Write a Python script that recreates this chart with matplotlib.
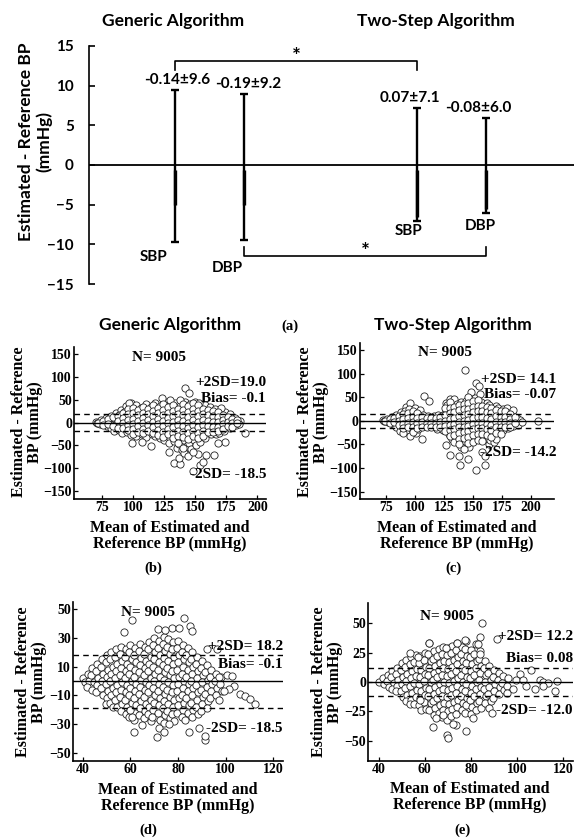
import matplotlib
matplotlib.use("Agg")
import matplotlib.pyplot as plt

plt.rcParams["font.family"] = "Liberation Serif"
plt.rcParams["font.weight"] = "bold"
plt.rcParams["axes.linewidth"] = 1.2

W, H = 582, 840
SANS = "Lato"

# ---- panel (a): mean +/- SD of the error ----
group_titles = ["Generic Algorithm", "Two-Step Algorithm"]
bp_names = ["SBP", "DBP", "SBP", "DBP"]
err_mean = [-0.14, -0.19, 0.07, -0.08]
err_sd = [9.6, 9.2, 7.1, 6.0]

# ---- Bland-Altman panels (b)-(e) ----
n_obs = 9005
ba_upper = [19.0, 14.1, 18.2, 12.2]
ba_bias = [-0.1, -0.07, -0.1, 0.08]
ba_lower = [-18.5, -14.2, -18.5, -12.0]

# (b) generic SBP
b_points = [
    (70, 2), (71, -2), (74, 5), (73, -4), (75, 0), (78, 10), (77, 2), (79, -8),
    (82, 15), (81, 5), (83, -5), (82, -13), (86, 21), (85, 10), (87, 0), (86, -10), (85, -18),
    (90, 27), (89, 16), (91, 5), (90, -6), (89, -17), (91, -24),
    (94, 36), (93, 24), (95, 12), (94, 1), (93, -10), (95, -21),
    (98, 43), (97, 31), (99, 18), (98, 6), (97, -6), (99, -18), (98, -27),
    (102, 38), (101, 26), (103, 14), (102, 2), (101, -9), (103, -21), (102, -30),
    (106, 33), (105, 21), (107, 9), (106, -3), (105, -15), (107, -26),
    (110, 40), (109, 28), (111, 16), (110, 4), (109, -8), (111, -20), (110, -31),
    (114, 35), (113, 23), (115, 11), (114, -1), (113, -13), (115, -25),
    (118, 42), (117, 30), (119, 18), (118, 6), (117, -6), (119, -18), (118, -29),
    (122, 37), (121, 25), (123, 13), (122, 1), (121, -11), (123, -23), (122, -34),
    (126, 45), (125, 33), (127, 21), (126, 9), (125, -3), (127, -15), (126, -27), (125, -39),
    (130, 38), (129, 26), (131, 14), (130, 2), (129, -10), (131, -22), (130, -34), (129, -46),
    (134, 43), (133, 31), (135, 19), (134, 7), (133, -5), (135, -17), (134, -29), (133, -41), (135, -55),
    (138, 36), (137, 24), (139, 12), (138, 0), (137, -12), (139, -24), (138, -36), (137, -48), (139, -60),
    (142, 45), (141, 33), (143, 21), (142, 9), (141, -3), (143, -15), (142, -27), (141, -39), (143, -52),
    (146, 40), (145, 28), (147, 16), (146, 4), (145, -8), (147, -20), (146, -32), (145, -45), (147, -58),
    (150, 46), (149, 34), (151, 22), (150, 10), (149, -2), (151, -14), (150, -26), (149, -38), (151, -50),
    (154, 32), (153, 20), (155, 8), (154, -4), (153, -16), (155, -28), (154, -42),
    (158, 38), (157, 26), (159, 14), (158, 2), (157, -10), (159, -22), (158, -34),
    (162, 35), (161, 23), (163, 11), (162, -1), (161, -13), (163, -25),
    (166, 30), (165, 19), (167, 8), (166, -3), (165, -14), (167, -26),
    (170, 22), (169, 11), (171, 0), (170, -11), (169, -22),
    (174, 24), (173, 13), (175, 3), (174, -8), (173, -18),
    (178, 18), (177, 8), (179, -2), (178, -12), (182, 11), (181, 3), (183, -6), (186, 4), (185, -3),
    (99, -44), (107, -43), (114, -51), (129, -64), (133, -88), (138, -90), (137, -78), (141, -66),
    (144, -73), (148, -106), (154, -93), (156, -86), (152, -70), (159, -72), (165, -72), (174, -43),
    (168, -46), (190, -23), (97, 44), (123, 54), (130, 50), (138, 50), (142, 75), (145, 64),
    (153, 44), (171, 33),
    (72, 0), (76, 3), (76, -5), (80, 7), (80, -3), (84, 12), (84, -8), (88, 15), (88, 4), (88, -12),
    (92, 20), (92, 9), (92, -2), (92, -13), (96, 30), (96, 18), (96, 6), (96, -5), (96, -16),
    (100, 32), (100, 20), (100, 8), (100, -3), (100, -14), (100, -25),
    (104, 28), (104, 16), (104, 4), (104, -8), (104, -20),
    (108, 35), (108, 22), (108, 10), (108, -2), (108, -14), (108, -24),
    (112, 30), (112, 18), (112, 6), (112, -6), (112, -18),
    (116, 38), (116, 26), (116, 14), (116, 2), (116, -10), (116, -22),
    (120, 32), (120, 20), (120, 8), (120, -4), (120, -16), (120, -28),
    (124, 40), (124, 28), (124, 16), (124, 4), (124, -8), (124, -20), (124, -32),
    (128, 34), (128, 22), (128, 10), (128, -2), (128, -14), (128, -26),
    (132, 38), (132, 26), (132, 14), (132, 2), (132, -10), (132, -22), (132, -34),
    (136, 30), (136, 18), (136, 6), (136, -6), (136, -18), (136, -30), (136, -44),
    (140, 40), (140, 28), (140, 16), (140, 4), (140, -8), (140, -20), (140, -32), (140, -56),
    (144, 36), (144, 24), (144, 12), (144, 0), (144, -12), (144, -24), (144, -36),
    (148, 42), (148, 30), (148, 18), (148, 6), (148, -6), (148, -18), (148, -30), (148, -64),
    (152, 38), (152, 26), (152, 14), (152, 2), (152, -10), (152, -22), (152, -34),
    (156, 30), (156, 18), (156, 6), (156, -6), (156, -18), (156, -30),
    (160, 28), (160, 16), (160, 4), (160, -8), (160, -20),
    (164, 26), (164, 14), (164, 2), (164, -10), (164, -20),
    (168, 24), (168, 13), (168, 2), (168, -9), (168, -19),
    (172, 17), (172, 6), (172, -4), (172, -14), (176, 12), (176, 2), (176, -7),
    (180, 8), (180, -2), (180, -10), (184, 6), (184, -1),
]

# (c) two-step SBP
c_points = [
    (72, 1), (73, -1), (76, 4), (77, -3), (80, 8), (79, 0), (81, -7),
    (84, 12), (83, 3), (85, -6), (84, -13), (88, 18), (87, 8), (89, -2), (88, -12), (87, -22),
    (92, 30), (91, 20), (93, 10), (92, 0), (91, -10), (93, -20), (90, -25),
    (96, 38), (95, 24), (97, 12), (96, 2), (95, -8), (97, -18), (96, -33),
    (100, 28), (99, 16), (101, 5), (100, -6), (99, -16), (101, -26),
    (104, 22), (103, 11), (105, 1), (104, -9), (103, -18), (106, -38),
    (108, 53), (107, 12), (109, 2), (108, -8), (112, 43), (111, 10), (113, 0), (112, -9),
    (116, 11), (115, 1), (117, -10), (120, 12), (119, 2), (121, -9), (119, -18),
    (124, 13), (123, 3), (125, -8), (124, -20),
    (127, 37), (128, 33), (127, 20), (129, 8), (128, -4), (127, -16), (129, -28), (127, -52),
    (130, 46), (132, 34), (131, 22), (133, 10), (132, -2), (131, -14), (133, -26), (132, -38), (130, -72),
    (134, 47), (136, 36), (135, 24), (137, 12), (136, 0), (135, -12), (137, -24), (136, -36), (134, -45),
    (140, 40), (139, 28), (141, 16), (140, 4), (139, -8), (141, -20), (140, -32), (139, -44),
    (140, -56), (138, -74), (139, -93),
    (143, 107), (144, 42), (143, 30), (145, 18), (144, 6), (143, -6), (145, -18), (144, -30),
    (143, -42), (146, -81),
    (148, 60), (149, 45), (147, 33), (149, 21), (148, 9), (147, -3), (149, -15), (148, -27),
    (147, -39), (147, -56),
    (153, 80), (152, 48), (151, 36), (153, 24), (152, 12), (151, 0), (153, -12), (152, -24), (151, -36),
    (155, 73), (156, 56), (157, 40), (155, 28), (157, 16), (156, 4), (155, -8), (157, -20),
    (156, -32), (158, -67), (153, -105),
    (162, 38), (161, 26), (159, 14), (161, 2), (160, -10), (159, -22), (161, -34), (164, -49),
    (160, -74), (160, -93),
    (164, 34), (165, 22), (163, 10), (165, -2), (164, -14), (163, -26), (165, -40),
    (170, 31), (168, 19), (169, 7), (167, -5), (169, -17), (168, -29), (168, -45),
    (172, 28), (173, 16), (171, 4), (173, -8), (172, -20), (170, -38),
    (176, 25), (177, 14), (175, 3), (177, -8), (176, -19),
    (179, 28), (180, 16), (181, 5), (179, -6), (180, -16),
    (185, 22), (183, 10), (184, 0), (185, -10), (188, 6), (187, -2), (189, -8),
    (191, 1), (192, -2), (206, 0),
    (74, 0), (78, 4), (78, -4), (82, 6), (82, -3), (86, 10), (86, 0), (86, -8),
    (90, 14), (90, 4), (90, -6), (90, -16), (94, 16), (94, 6), (94, -4), (94, -14),
    (98, 20), (98, 9), (98, -2), (98, -12), (98, -24), (102, 16), (102, 5), (102, -5), (102, -15),
    (106, 8), (106, -3), (106, -12), (110, 6), (110, -4), (110, -12), (114, 7), (114, -4), (114, -12),
    (118, 7), (118, -4), (118, -12), (122, 8), (122, -3), (122, -13),
    (126, 28), (126, 12), (126, 0), (126, -10), (126, -22),
    (130, 40), (130, 28), (130, 16), (130, 4), (130, -8), (130, -20), (130, -32),
    (134, 30), (134, 18), (134, 6), (134, -6), (134, -18), (134, -30),
    (138, 34), (138, 22), (138, 10), (138, -2), (138, -14), (138, -26), (138, -38), (138, -50),
    (142, 36), (142, 24), (142, 12), (142, 0), (142, -12), (142, -24), (142, -36), (142, -60),
    (146, 50), (146, 38), (146, 26), (146, 14), (146, 2), (146, -10), (146, -22), (146, -34), (146, -46),
    (150, 42), (150, 30), (150, 18), (150, 6), (150, -6), (150, -18), (150, -30), (150, -44),
    (154, 44), (154, 32), (154, 20), (154, 8), (154, -4), (154, -16), (154, -28), (154, -40),
    (158, 32), (158, 20), (158, 8), (158, -4), (158, -16), (158, -28), (158, -42),
    (162, 30), (162, 18), (162, 6), (162, -6), (162, -18), (162, -30),
    (166, 28), (166, 16), (166, 4), (166, -8), (166, -20), (166, -34),
    (170, 22), (170, 10), (170, -2), (170, -14), (170, -26),
    (174, 20), (174, 8), (174, -2), (174, -13), (174, -28),
    (178, 20), (178, 9), (178, -2), (178, -12), (182, 14), (182, 4), (182, -5), (182, -12),
    (186, 8), (186, -4),
]

# (d) generic DBP
d_points = [
    (40, 2), (41, -1), (42, 5), (42.5, 0), (41.5, -4),
    (44, 9), (43.5, 4), (44.5, -1), (44, -6),
    (46, 12), (45.5, 7), (46.5, 2), (46, -3), (45.5, -8),
    (48, 15), (47.5, 10), (48.5, 5), (48, 0), (47.5, -5), (48.5, -10),
    (50, 18), (49.5, 13), (50.5, 8), (50, 3), (49.5, -2), (50.5, -7), (50, -12), (49.5, -16),
    (52, 20), (51.5, 15), (52.5, 10), (52, 5), (51.5, 0), (52.5, -5), (52, -10), (51.5, -15), (52.5, -18),
    (54, 22), (53.5, 17), (54.5, 12), (54, 7), (53.5, 2), (54.5, -3), (54, -8), (53.5, -13), (54.5, -18),
    (56, 24), (55.5, 19), (56.5, 14), (56, 9), (55.5, 4), (56.5, -1), (56, -6), (55.5, -11),
    (56.5, -16), (56, -21),
    (58, 22), (57.5, 17), (58.5, 12), (58, 7), (57.5, 2), (58.5, -3), (58, -8), (57.5, -13),
    (58.5, -18), (58, -23),
    (60, 25), (59.5, 20), (60.5, 15), (60, 10), (59.5, 5), (60.5, 0), (60, -5), (59.5, -10),
    (60.5, -15), (60, -20), (59.5, -25),
    (62, 23), (61.5, 18), (62.5, 13), (62, 8), (61.5, 3), (62.5, -2), (62, -7), (61.5, -12),
    (62.5, -17), (62, -22), (61.5, -27),
    (64, 26), (63.5, 21), (64.5, 16), (64, 11), (63.5, 6), (64.5, 1), (64, -4), (63.5, -9),
    (64.5, -14), (64, -19), (63.5, -24),
    (66, 24), (65.5, 19), (66.5, 14), (66, 9), (65.5, 4), (66.5, -1), (66, -6), (65.5, -11),
    (66.5, -16), (66, -21), (65.5, -26),
    (68, 27), (67.5, 22), (68.5, 17), (68, 12), (67.5, 7), (68.5, 2), (68, -3), (67.5, -8),
    (68.5, -13), (68, -18), (67.5, -23), (68.5, -28),
    (70, 30), (69.5, 25), (70.5, 20), (70, 15), (69.5, 10), (70.5, 5), (70, 0), (69.5, -5),
    (70.5, -10), (70, -15), (69.5, -20), (70.5, -25),
    (72, 28), (71.5, 23), (72.5, 18), (72, 13), (71.5, 8), (72.5, 3), (72, -2), (71.5, -7),
    (72.5, -12), (72, -17), (71.5, -22), (72.5, -27),
    (74, 31), (73.5, 26), (74.5, 21), (74, 16), (73.5, 11), (74.5, 6), (74, 1), (73.5, -4),
    (74.5, -9), (74, -14), (73.5, -19), (74.5, -24), (74, -29),
    (76, 29), (75.5, 24), (76.5, 19), (76, 14), (75.5, 9), (76.5, 4), (76, -1), (75.5, -6),
    (76.5, -11), (76, -16), (75.5, -21), (76.5, -26),
    (78, 27), (77.5, 22), (78.5, 17), (78, 12), (77.5, 7), (78.5, 2), (78, -3), (77.5, -8),
    (78.5, -13), (78, -18), (77.5, -23), (78.5, -28),
    (80, 28), (79.5, 23), (80.5, 18), (80, 13), (79.5, 8), (80.5, 3), (80, -2), (79.5, -7),
    (80.5, -12), (80, -17), (79.5, -22),
    (82, 25), (81.5, 20), (82.5, 15), (82, 10), (81.5, 5), (82.5, 0), (82, -5), (81.5, -10),
    (82.5, -15), (82, -20), (81.5, -25),
    (84, 23), (83.5, 18), (84.5, 13), (84, 8), (83.5, 3), (84.5, -2), (84, -7), (83.5, -12),
    (84.5, -17), (84, -22),
    (86, 20), (85.5, 15), (86.5, 10), (86, 5), (85.5, 0), (86.5, -5), (86, -10), (85.5, -15),
    (86.5, -20), (86, -25),
    (88, 17), (87.5, 12), (88.5, 7), (88, 2), (87.5, -3), (88.5, -8), (88, -13), (87.5, -18), (88.5, -23),
    (90, 14), (89.5, 9), (90.5, 4), (90, -1), (89.5, -6), (90.5, -11), (90, -16), (89.5, -21),
    (92, 11), (91.5, 6), (92.5, 1), (92, -4), (91.5, -9), (92.5, -14), (92, -19),
    (94, 8), (93.5, 3), (94.5, -2), (94, -7), (93.5, -12),
    (96, 5), (95.5, 0), (96.5, -5), (96, -10), (98, 3), (97.5, -2), (98.5, -7),
    (60.7, 42.5), (57.2, 34), (82.4, 44), (85.2, 38.5), (85.9, 35), (77.5, 37), (80.3, 37),
    (71.6, 36), (74.7, 35.7), (92.2, 22), (96.5, 22), (97.2, 2.8), (100.7, 4.5), (102.8, 3.3),
    (103.5, -3.3), (101.4, -5.6), (106.3, -9), (108.4, -10.8), (110.5, -12.7), (112.3, -16),
    (99.3, -7.3), (97.2, -13), (61.4, -35.4), (60.7, -25), (64.9, -31), (71.2, -39), (71.9, -33),
    (74, -35.4), (76.1, -30), (84.5, -35.4), (88.7, -33), (91.5, -41), (91.3, -38.5), (83.1, -27),
    (60, -20), (69, -25),
]

# (e) two-step DBP
e_points = [
    (40, 0), (42, 3), (42.5, -2), (44, 6), (43.5, 1), (44.5, -4),
    (46, 9), (45.5, 4), (46.5, -1), (46, -6), (48, 12), (47.5, 7), (48.5, 2), (48, -3), (47.5, -8),
    (50, 16), (49.5, 10), (50.5, 4), (50, -2), (49.5, -8), (50.5, -13),
    (52, 19), (51.5, 13), (52.5, 7), (52, 1), (51.5, -5), (52.5, -11), (52, -16),
    (54, 21), (53.5, 15), (54.5, 9), (54, 3), (53.5, -3), (54.5, -9), (54, -15), (53.5, -19),
    (56, 23), (55.5, 17), (56.5, 11), (56, 5), (55.5, -1), (56.5, -7), (56, -13), (55.5, -19),
    (58, 22), (57.5, 16), (58.5, 10), (58, 4), (57.5, -2), (58.5, -8), (58, -14), (57.5, -20), (58.5, -24),
    (60, 25), (59.5, 19), (60.5, 13), (60, 7), (59.5, 1), (60.5, -5), (60, -11), (59.5, -17), (60.5, -23),
    (62, 33), (61.5, 24), (62.5, 18), (62, 12), (61.5, 6), (62.5, 0), (62, -6), (61.5, -12),
    (62.5, -18), (62, -24),
    (64, 26), (63.5, 20), (64.5, 14), (64, 8), (63.5, 2), (64.5, -4), (64, -10), (63.5, -16),
    (64.5, -22), (64, -28),
    (66, 28), (65.5, 22), (66.5, 16), (66, 10), (65.5, 4), (66.5, -2), (66, -8), (65.5, -14),
    (66.5, -20), (66, -26),
    (68, 30), (67.5, 24), (68.5, 18), (68, 12), (67.5, 6), (68.5, 0), (68, -6), (67.5, -12),
    (68.5, -18), (68, -24), (67.5, -30),
    (70, 29), (69.5, 23), (70.5, 17), (70, 11), (69.5, 5), (70.5, -1), (70, -7), (69.5, -13),
    (70.5, -19), (70, -25), (69.5, -32),
    (72, 31), (71.5, 25), (72.5, 19), (72, 13), (71.5, 7), (72.5, 1), (72, -5), (71.5, -11),
    (72.5, -17), (72, -23), (71.5, -29),
    (74, 33), (73.5, 27), (74.5, 21), (74, 15), (73.5, 9), (74.5, 3), (74, -3), (73.5, -9),
    (74.5, -15), (74, -21), (73.5, -27),
    (76, 30), (75.5, 24), (76.5, 18), (76, 12), (75.5, 6), (76.5, 0), (76, -6), (75.5, -12),
    (76.5, -18), (76, -24),
    (78, 35), (77.5, 28), (78.5, 22), (78, 16), (77.5, 10), (78.5, 4), (78, -2), (77.5, -8),
    (78.5, -14), (78, -20), (77.5, -26),
    (80, 27), (79.5, 21), (80.5, 15), (80, 9), (79.5, 3), (80.5, -3), (80, -9), (79.5, -15),
    (80.5, -21), (80, -27),
    (82, 32), (81.5, 24), (82.5, 18), (82, 12), (81.5, 6), (82.5, 0), (82, -6), (81.5, -12),
    (82.5, -18), (82, -24),
    (84, 26), (83.5, 20), (84.5, 14), (84, 8), (83.5, 2), (84.5, -4), (84, -10), (83.5, -16), (84.5, -22),
    (86, 18), (85.5, 12), (86.5, 6), (86, 0), (85.5, -6), (86.5, -12), (86, -18),
    (88, 14), (87.5, 8), (88.5, 2), (88, -4), (87.5, -10), (88.5, -16), (88, -22),
    (90, 10), (89.5, 4), (90.5, -2), (90, -8), (89.5, -14),
    (92, 8), (91.5, 2), (92.5, -4), (92, -10), (94, 5), (93.5, -1), (94.5, -7), (96, 3), (95.5, -3),
    (84.6, 50.4), (91.1, 37), (83.9, 38), (61.9, 33), (69.4, 29), (77.4, 36), (73.8, 33.6),
    (83.1, 32), (83.9, 24), (53.6, 24.4), (57.2, 21), (106.2, 9.8), (101.2, 6.4), (109.8, 1.4),
    (111.3, 0), (113.4, -0.8), (117.3, 0.8), (116.3, -7.6), (111.3, -3.6), (107.7, -5.6),
    (104, -3.6), (98.3, -5.6), (95.4, -9.2), (99.4, 2), (102.6, 1.4), (63.7, -38.4),
    (69.7, -44.8), (70.2, -47.6), (73.5, -36.4), (77.8, -42), (81, -30.8), (72.3, -35.6),
    (64.8, -30.8), (68, -28), (88.9, -26), (57.9, -15.4),
]

fig = plt.figure(figsize=(W / 100, H / 100), dpi=100)


def add_ax(l, t, r, b):
    return fig.add_axes([l / W, 1 - b / H, (r - l) / W, (b - t) / H])


def ftext(x, y, s, **kw):
    fig.text(x / W, 1 - y / H, s, **kw)


# ================= panel (a) =================
ax = add_ax(89, 44, 574, 286)
pos = [1, 2, 4.5, 5.5]
ax.set_xlim(-0.25, 6.77)
ax.set_ylim(-15.25, 15.25)
ax.errorbar(pos, err_mean, yerr=err_sd, fmt="none", ecolor="black", elinewidth=1.7,
            capsize=3, capthick=1.7)
# the lower halves of the bars look heavier in the original
thick_end = [-5.0, -5.0, -6.6, -5.6]
ax.vlines(pos, thick_end, -0.6, color="black", lw=2.4)
ax.axhline(0, color="black", lw=1.3)
for s in ["top", "right", "bottom"]:
    ax.spines[s].set_visible(False)
ax.spines["left"].set_bounds(-15, 15)
ax.set_xticks([])
ax.set_yticks(range(-15, 16, 5))
ax.tick_params(axis="y", direction="in", length=4, width=1.2, labelsize=11, pad=11)
for lab in ax.get_yticklabels():
    lab.set_fontfamily(SANS)

val_dx = [0.02, 0.05, -0.11, -0.11]
for p, m, s, dx in zip(pos, err_mean, err_sd, val_dx):
    ax.text(p + dx, m + s + 0.35, f"{m:.2f}\u00b1{s:.1f}", ha="center", va="bottom",
            fontsize=11, family=SANS)
name_off = [(-0.32, -1.9), (-0.25, -3.6), (-0.12, -1.25), (-0.08, -1.65)]
for p, m, s, nm, (dx, dy) in zip(pos, err_mean, err_sd, bp_names, name_off):
    ax.text(p + dx, m - s + dy, nm, ha="center", va="center", fontsize=11, family=SANS)

# significance brackets
ax.plot([pos[0], pos[0], pos[2], pos[2]], [12.0, 13.1, 13.1, 12.0], color="black", lw=1.2)
ax.text((pos[0] + pos[2]) / 2, 13.6, "*", ha="center", va="center", fontsize=15, family=SANS)
ax.plot([pos[1], pos[1], pos[3], pos[3]], [-10.3, -11.5, -11.5, -10.3], color="black", lw=1.2)
ax.text((pos[1] + pos[3]) / 2, -11.0, "*", ha="center", va="center", fontsize=15, family=SANS)

ftext(173, 21, group_titles[0], ha="center", va="center", fontsize=12.5, family=SANS)
ftext(436, 21, group_titles[1], ha="center", va="center", fontsize=12.5, family=SANS)
ftext(35, 142, "Estimated - Reference BP\n(mmHg)", rotation=90, ha="center", va="center",
      fontsize=12.5, family=SANS, linespacing=1.1)
ftext(290, 326, "(a)", ha="center", va="center", fontsize=10.5)

# ================= panels (b)-(e) =================
panels = [
    dict(pts=b_points, box=(74, 347, 266, 499), xlim=(52.4, 207), ylim=(-168, 166),
         xt=range(75, 201, 25), yt=range(-150, 151, 50), up_sep="",
         n_xy=(159, 357), up_y=383, bias_y=399, lo_y=475, rx=266,
         ylab_x=27, ylab_y=422, xlab=(170, 536), tag=(153, 568), tag_s="(b)"),
    dict(pts=c_points, box=(360, 343, 554, 499), xlim=(52.5, 220), ylim=(-165.5, 164.8),
         xt=range(75, 201, 25), yt=range(-150, 151, 50), up_sep=" ",
         n_xy=(445, 352), up_y=380, bias_y=395, lo_y=453, rx=556,
         ylab_x=313, ylab_y=422, xlab=(457, 536), tag=(453, 568), tag_s="(c)"),
    dict(pts=d_points, box=(73, 602, 283, 761), xlim=(35.8, 124.2), ylim=(-55.8, 55.1),
         xt=range(40, 121, 20), yt=range(-50, 51, 20), up_sep=" ",
         n_xy=(148, 613), up_y=646, bias_y=665, lo_y=728, rx=283,
         ylab_x=31, ylab_y=682, xlab=(178, 798), tag=(148, 830), tag_s="(d)"),
    dict(pts=e_points, box=(368, 603, 573, 761), xlim=(35.4, 124.2), ylim=(-67.3, 67.3),
         xt=range(40, 121, 20), yt=range(-50, 51, 25), up_sep=" ",
         n_xy=(447, 617), up_y=637, bias_y=658, lo_y=711, rx=573,
         ylab_x=327, ylab_y=682, xlab=(470, 797), tag=(463, 830), tag_s="(e)"),
]

for i, pn in enumerate(panels):
    ax = add_ax(*pn["box"])
    xs = [p[0] for p in pn["pts"]]
    ys = [p[1] for p in pn["pts"]]
    ax.scatter(xs, ys, s=27, facecolors="white", edgecolors="#222222", linewidths=0.6, zorder=2)
    ax.axhline(ba_bias[i], color="black", lw=1.0, zorder=3)
    ax.axhline(ba_upper[i], color="black", lw=1.0, ls=(0, (4, 3)), zorder=3)
    ax.axhline(ba_lower[i], color="black", lw=1.0, ls=(0, (4, 3)), zorder=3)
    ax.set_xlim(*pn["xlim"])
    ax.set_ylim(*pn["ylim"])
    ax.set_xticks(list(pn["xt"]))
    ax.set_yticks(list(pn["yt"]))
    ax.tick_params(direction="in", length=3, width=0.9, labelsize=10, pad=1.5)
    ax.spines["top"].set_visible(False)
    ax.spines["right"].set_visible(False)

    ftext(pn["n_xy"][0], pn["n_xy"][1], f"N= {n_obs}", ha="center", va="center", fontsize=11)
    ftext(pn["rx"], pn["up_y"], f"+2SD={pn['up_sep']}{ba_upper[i]}", ha="right", va="center",
          fontsize=11)
    ftext(pn["rx"], pn["bias_y"], f"Bias= {ba_bias[i]}", ha="right", va="center", fontsize=11)
    ftext(pn["rx"], pn["lo_y"], f"-2SD= {ba_lower[i]}", ha="right", va="center", fontsize=11)
    ftext(pn["ylab_x"], pn["ylab_y"], "Estimated - Reference\nBP (mmHg)", rotation=90,
          ha="center", va="center", fontsize=11.5, linespacing=1.0)
    ftext(pn["xlab"][0], pn["xlab"][1], "Mean of Estimated and\nReference BP (mmHg)",
          ha="center", va="center", fontsize=11.5, linespacing=1.0)
    ftext(pn["tag"][0], pn["tag"][1], pn["tag_s"], ha="center", va="center", fontsize=10.5)

ftext(170, 325, group_titles[0], ha="center", va="center", fontsize=12.5, family=SANS)
ftext(453, 325, group_titles[1], ha="center", va="center", fontsize=12.5, family=SANS)

fig.savefig("out.png", dpi=100)
